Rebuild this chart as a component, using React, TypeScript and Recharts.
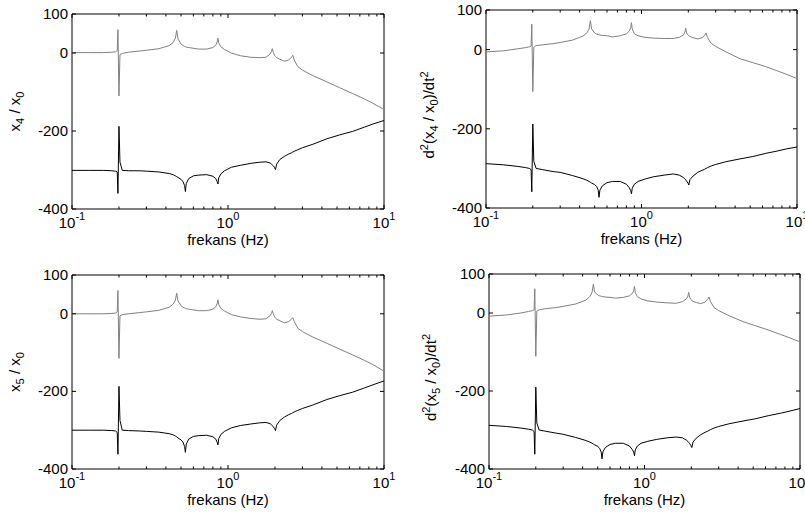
import React from 'react'
import { LineChart, Line, XAxis, YAxis, ReferenceArea } from 'recharts'

// shared frequency grid (Hz)
const freq = [
  0.1, 0.13, 0.16, 0.18, 0.19, 0.195, 0.197, 0.2, 0.203, 0.21,
  0.23, 0.27, 0.3, 0.36, 0.42, 0.445, 0.46, 0.469, 0.478, 0.5,
  0.515, 0.527, 0.533, 0.54, 0.56, 0.6, 0.65, 0.73, 0.8, 0.835,
  0.852, 0.862, 0.872, 0.9, 0.95, 1.05, 1.2, 1.4, 1.6, 1.75,
  1.86, 1.9, 1.925, 1.95, 1.99, 2.015, 2.05, 2.15, 2.3, 2.45,
  2.55, 2.6, 2.66, 2.8, 3.0, 3.5, 4.3, 5.2, 6.3, 7.5,
  8.5, 10,
]

// x4 / x0
const x4Mag = [
  1, 1, 1, 2, 3, 6, 60, -110, -4, -1,
  2, 5, 7, 11, 19, 27, 38, 58, 36, 23,
  19, 17, 16, 15, 14, 12, 10, 10, 14, 20,
  28, 38, 26, 16, 9, 0, -7, -11, -12, -11,
  -3, 4, 11, 2, -6, -9, -12, -16, -21, -18,
  -11, -6, -18, -35, -44, -58, -74, -89, -104, -118,
  -129, -145,
]
const x4Phase = [
  -301, -301, -301, -302, -303, -305, -360, -188, -280, -301,
  -302, -302, -303, -305, -309, -312, -315, -317, -319, -324,
  -330, -340, -355, -335, -322, -315, -313, -312, -316, -322,
  -330, -336, -320, -310, -302, -293, -288, -283, -280, -279,
  -282, -285, -287, -289, -294, -299, -285, -273, -265, -259,
  -256, -254, -252, -248, -243, -234, -220, -210, -201, -190,
  -182, -173,
]

// d2(x4 / x0)/dt2
const a4Mag = [
  -6, -3, 2, 5, 7, 9, 64, -106, 6, 10,
  12, 15, 18, 24, 34, 42, 52, 73, 52, 42,
  39, 38, 37, 37, 36, 35, 32, 35, 40, 47,
  55, 68, 52, 40, 35, 31, 29, 28, 28, 31,
  37, 44, 54, 42, 37, 35, 33, 30, 27, 30,
  36, 42, 30, 16, 8, -6, -23, -33, -43, -54,
  -62, -73,
]
const a4Phase = [
  -288, -291, -295, -298, -300, -303, -359, -188, -282, -300,
  -303, -308, -310, -318, -326, -330, -333, -335, -337, -341,
  -346, -355, -373, -355, -344, -336, -333, -333, -340, -349,
  -356, -364, -350, -340, -333, -327, -321, -317, -314, -317,
  -323, -326, -329, -332, -337, -342, -328, -319, -310, -305,
  -302, -300, -298, -294, -290, -283, -276, -270, -262, -256,
  -251, -246,
]

// x5 / x0
const x5Mag = [
  0, 0, 0, 1, 2, 5, 60, -115, -5, -2,
  0, 3, 5, 9, 17, 25, 35, 53, 33, 21,
  17, 15, 14, 13, 12, 10, 8, 8, 12, 18,
  26, 36, 24, 14, 7, -2, -8, -12, -14, -13,
  -5, 1, 8, 0, -8, -11, -14, -18, -23, -20,
  -14, -10, -20, -37, -46, -60, -76, -91, -106, -120,
  -131, -148,
]
const x5Phase = [
  -300, -300, -300, -301, -302, -306, -362, -187, -275, -300,
  -301, -302, -303, -305, -309, -312, -315, -317, -320, -325,
  -331, -342, -357, -336, -323, -316, -314, -313, -317, -323,
  -331, -338, -322, -311, -303, -294, -288, -284, -281, -280,
  -283, -286, -288, -291, -296, -301, -287, -275, -266, -260,
  -257, -255, -253, -249, -244, -235, -221, -211, -202, -191,
  -183, -173,
]

// d2(x5 / x0)/dt2
const a5Mag = [
  -8, -5, 0, 4, 6, 8, 62, -111, 5, 8,
  11, 14, 17, 23, 33, 42, 53, 74, 54, 46,
  44, 43, 42, 42, 41, 40, 38, 40, 44, 50,
  57, 68, 52, 42, 36, 31, 28, 26, 25, 29,
  36, 43, 53, 40, 34, 32, 30, 27, 24, 28,
  35, 41, 29, 14, 6, -7, -22, -33, -44, -55,
  -63, -74,
]
const a5Phase = [
  -288, -291, -295, -298, -300, -304, -362, -190, -282, -300,
  -303, -308, -311, -319, -327, -331, -334, -336, -338, -342,
  -347, -357, -374, -356, -345, -337, -334, -334, -341, -350,
  -357, -366, -351, -341, -334, -329, -324, -320, -318, -320,
  -326, -329, -332, -335, -340, -345, -331, -321, -312, -306,
  -303, -301, -299, -295, -291, -284, -277, -271, -263, -257,
  -252, -245,
]

const xTicks = [0.1, 0.2, 0.3, 0.4, 0.5, 0.6, 0.7, 0.8, 0.9, 1, 2, 3, 4, 5, 6, 7, 8, 9, 10]
const yTicks = [-400, -200, 0, 100]

const FONT = '"Liberation Sans", Arial, Helvetica, sans-serif'

function makeXTick(plotH: number) {
  return (props: any) => {
    const { x, y, payload } = props
    const lg = Math.log10(payload.value)
    const exp = Math.round(lg)
    const major = Math.abs(lg - exp) < 1e-6
    const len = major ? 4 : 2.5
    return (
      <g>
        <line x1={x} x2={x} y1={y} y2={y - len} stroke="#000" />
        <line x1={x} x2={x} y1={y - plotH} y2={y - plotH + len} stroke="#000" />
        {major && (
          <text x={x} y={y + 19} textAnchor="middle" fontSize={15} fontFamily={FONT} fill="#000">
            10<tspan dy={-8} fontSize={11}>{exp}</tspan>
          </text>
        )}
      </g>
    )
  }
}

function makeYTick(plotW: number) {
  return (props: any) => {
    const { x, y, payload } = props
    return (
      <g>
        <line x1={x} x2={x + 4} y1={y} y2={y} stroke="#000" />
        <line x1={x + plotW} x2={x + plotW - 4} y1={y} y2={y} stroke="#000" />
        <text x={x - 4} y={y} dy={5} textAnchor="end" fontSize={15} fontFamily={FONT} fill="#000">
          {payload.value}
        </text>
      </g>
    )
  }
}

function RatioLabel({ n }: { n: number }) {
  return (
    <>
      x<tspan dy={4} fontSize={11}>{n}</tspan>
      <tspan dy={-4}> / x</tspan>
      <tspan dy={4} fontSize={11}>0</tspan>
    </>
  )
}

function AccelLabel({ n }: { n: number }) {
  return (
    <>
      d<tspan dy={-6} fontSize={11}>2</tspan>
      <tspan dy={6}>(x</tspan>
      <tspan dy={4} fontSize={11}>{n}</tspan>
      <tspan dy={-4}> / x</tspan>
      <tspan dy={4} fontSize={11}>0</tspan>
      <tspan dy={-4}>)/dt</tspan>
      <tspan dy={-6} fontSize={11}>2</tspan>
    </>
  )
}

interface PanelProps {
  box: [number, number, number, number]
  plot: [number, number, number, number]
  mag: number[]
  phase: number[]
  yLabel: React.ReactNode
  labelGap: number
  labelShift: number
}

function Panel({ box, plot, mag, phase, yLabel, labelGap, labelShift }: PanelProps) {
  const [bx, by, bw, bh] = box
  const [pl, pt, pr, pb] = plot
  // axes get 1px each (recharts skips axes of zero size)
  const margin = { left: pl - bx - 1, top: pt - by, right: bx + bw - pr, bottom: by + bh - pb - 1 }
  const plotW = pr - pl
  const plotH = pb - pt
  const rows = freq.map((f, i) => ({ f, mag: mag[i], phase: phase[i] }))
  const left = pl - bx
  const lx = left - labelGap
  const ly = margin.top + plotH / 2 + labelShift

  return (
    <div style={{ position: 'absolute', left: bx, top: by }}>
      <LineChart width={bw} height={bh} data={rows} margin={margin}>
        <ReferenceArea x1={0.1} x2={10} y1={-400} y2={100} fill="none" stroke="#000" strokeWidth={1} />
        <XAxis
          dataKey="f"
          type="number"
          scale="log"
          domain={[0.1, 10]}
          ticks={xTicks}
          interval={0}
          allowDataOverflow
          height={1}
          tickSize={0}
          tickMargin={0}
          axisLine={false}
          tickLine={false}
          tick={makeXTick(plotH)}
          label={{
            content: () => (
              <text x={left + plotW / 2} y={margin.top + plotH + 36} textAnchor="middle" fontSize={15} fontFamily={FONT} fill="#000">
                frekans (Hz)
              </text>
            ),
          }}
        />
        <YAxis
          type="number"
          domain={[-400, 100]}
          ticks={yTicks}
          interval={0}
          allowDataOverflow
          width={1}
          tickSize={0}
          tickMargin={0}
          axisLine={false}
          tickLine={false}
          tick={makeYTick(plotW)}
          label={{
            content: () => (
              <text x={lx} y={ly} transform={`rotate(-90 ${lx} ${ly})`} textAnchor="middle" fontSize={15} fontFamily={FONT} fill="#000">
                {yLabel}
              </text>
            ),
          }}
        />
        <Line type="linear" dataKey="mag" stroke="#808080" strokeWidth={1} dot={false} isAnimationActive={false} />
        <Line type="linear" dataKey="phase" stroke="#000" strokeWidth={1} dot={false} isAnimationActive={false} />
      </LineChart>
    </div>
  )
}

export default function App() {
  return (
    <div style={{ position: 'absolute', left: 0, top: 0, width: 805, height: 522, overflow: 'hidden', background: '#fff' }}>
      <Panel box={[0, 0, 400, 260]} plot={[72, 14, 384, 209]} mag={x4Mag} phase={x4Phase} yLabel={<RatioLabel n={4} />} labelGap={52} labelShift={0} />
      <Panel box={[405, 0, 400, 260]} plot={[486, 10, 797, 208]} mag={a4Mag} phase={a4Phase} yLabel={<AccelLabel n={4} />} labelGap={52} labelShift={6} />
      <Panel box={[0, 260, 400, 262]} plot={[72, 275, 384, 469]} mag={x5Mag} phase={x5Phase} yLabel={<RatioLabel n={5} />} labelGap={52} labelShift={0} />
      <Panel box={[405, 260, 400, 262]} plot={[489, 274, 800, 469]} mag={a5Mag} phase={a5Phase} yLabel={<AccelLabel n={5} />} labelGap={53} labelShift={6} />
    </div>
  )
}
